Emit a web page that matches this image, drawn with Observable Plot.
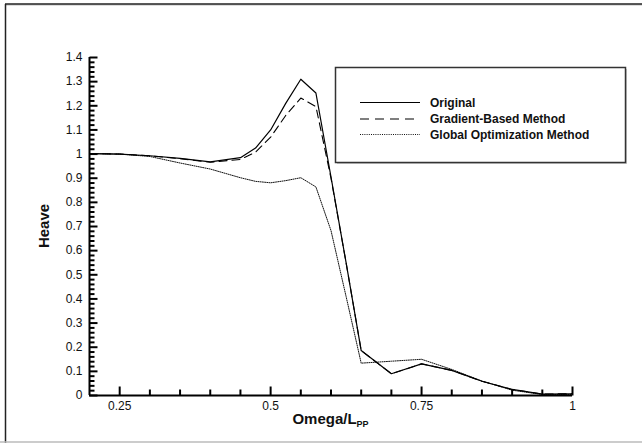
<!DOCTYPE html>
<html>
<head>
<meta charset="utf-8">
<script src="https://cdn.jsdelivr.net/npm/d3@7"></script>
<script src="https://cdn.jsdelivr.net/npm/@observablehq/plot@0.6"></script>
<style>
  html, body { margin: 0; padding: 0; background: #fff; }
  #chart { position: relative; width: 642px; height: 443px; }
</style>
</head>
<body>
<div id="chart"></div>
<script>
// ---- Data ----
const omega = [0.2, 0.25, 0.3, 0.35, 0.4, 0.45, 0.475, 0.5, 0.525, 0.55, 0.575, 0.6, 0.625, 0.65, 0.7, 0.75, 0.8, 0.85, 0.9, 0.95, 1.0];
const original = [1.002, 1.0, 0.993, 0.982, 0.968, 0.985, 1.025, 1.10, 1.21, 1.31, 1.253, 0.905, 0.55, 0.186, 0.09, 0.131, 0.104, 0.059, 0.025, 0.006, 0.007];
const gradientBased = [1.002, 1.0, 0.993, 0.981, 0.966, 0.978, 1.008, 1.07, 1.16, 1.232, 1.197, 0.90, 0.55, 0.186, 0.09, 0.131, 0.104, 0.059, 0.025, 0.006, 0.007];
const globalOpt = [1.002, 1.0, 0.99, 0.963, 0.938, 0.902, 0.887, 0.881, 0.89, 0.902, 0.864, 0.683, 0.41, 0.134, 0.142, 0.150, 0.108, 0.06, 0.022, 0.004, 0.004];

const seriesNames = ["Original", "Gradient-Based Method", "Global Optimization Method"];

const yTickValues = [0, 0.1, 0.2, 0.3, 0.4, 0.5, 0.6, 0.7, 0.8, 0.9, 1, 1.1, 1.2, 1.3, 1.4];
const yTickLabels = ["0", "0.1", "0.2", "0.3", "0.4", "0.5", "0.6", "0.7", "0.8", "0.9", "1", "1.1", "1.2", "1.3", "1.4"];
const xTickValues = [0.25, 0.5, 0.75, 1];
const xTickLabels = ["0.25", "0.5", "0.75", "1"];

// minor tick positions
const yMinorTicks = d3.range(1, 70).map(i => i * 0.02).filter((v, i) => (i + 1) % 5 !== 0);
const xMinorTicks = [0.3, 0.35, 0.4, 0.45, 0.55, 0.6, 0.65, 0.7, 0.8, 0.85, 0.9, 0.95];

// ---- Build tables ----
const toRows = (vals) => omega.map((x, i) => ({x, y: vals[i]}));
const yTicks = yTickValues.map((v, i) => ({v, label: yTickLabels[i]}));
const xTicks = xTickValues.map((v, i) => ({v, label: xTickLabels[i]}));

const W = 642, H = 443;
const mL = 89, mR = 70, mT = 57, mB = 48;
const plotW = W - mL - mR, plotH = H - mT - mB;
const font = "'Liberation Sans', Arial, Helvetica, sans-serif";

// a straight tick shape for vectors
const tickShape = {draw(context, l) { context.moveTo(0, 0); context.lineTo(0, -l); }};

const chart = Plot.plot({
  width: W,
  height: H,
  marginLeft: mL,
  marginRight: mR,
  marginTop: mT,
  marginBottom: mB,
  style: {fontFamily: font, background: "#fff", overflow: "visible"},
  x: {domain: [0.2, 1], axis: null},
  y: {domain: [0, 1.4], axis: null},
  marks: [
    // minor & major ticks (inward)
    Plot.vector(yMinorTicks, {x: 0.2, y: d => d, length: 5, rotate: 90, anchor: "start", shape: tickShape, stroke: "#000", strokeWidth: 2, strokeLinecap: "butt"}),
    Plot.vector(yTickValues, {x: 0.2, y: d => d, length: 8, rotate: 90, anchor: "start", shape: tickShape, stroke: "#000", strokeWidth: 2, strokeLinecap: "butt"}),
    Plot.vector(xMinorTicks, {x: d => d, y: 0, length: 6, rotate: 0, anchor: "start", shape: tickShape, stroke: "#000", strokeWidth: 2, strokeLinecap: "butt"}),
    Plot.vector(xTickValues, {x: d => d, y: 0, length: 9, rotate: 0, anchor: "start", shape: tickShape, stroke: "#000", strokeWidth: 2, strokeLinecap: "butt"}),
    // tick labels
    Plot.text(yTicks, {x: 0.2, y: "v", text: "label", textAnchor: "end", dx: -7, fontSize: 12, fill: "#111"}),
    Plot.text(xTicks, {x: "v", y: 0, text: "label", lineAnchor: "top", dy: 6, fontSize: 12, fill: "#111"}),
    // data lines
    Plot.line(toRows(globalOpt), {x: "x", y: "y", stroke: "#111", strokeWidth: 1, strokeDasharray: "1,1.2"}),
    Plot.line(toRows(gradientBased), {x: "x", y: "y", stroke: "#000", strokeWidth: 1.1, strokeDasharray: "8,5"}),
    Plot.line(toRows(original), {x: "x", y: "y", stroke: "#000", strokeWidth: 1.2}),
    // axis lines
    Plot.ruleX([0.2], {stroke: "#000", strokeWidth: 2}),
    Plot.ruleY([0], {stroke: "#000", strokeWidth: 2})
  ]
});

document.getElementById("chart").appendChild(chart);

// ---- Decorations: frame, titles, legend ----
const svg = d3.select(chart);

// outer frame
svg.append("line").attr("x1", 5).attr("x2", W).attr("y1", 5).attr("y2", 5).attr("stroke", "#bbb").attr("stroke-width", 1);
svg.append("line").attr("x1", 5).attr("x2", W).attr("y1", 4).attr("y2", 4).attr("stroke", "#222").attr("stroke-width", 1.5);
svg.append("line").attr("x1", 5.5).attr("x2", 5.5).attr("y1", 4).attr("y2", H).attr("stroke", "#222").attr("stroke-width", 1.5);
svg.append("line").attr("x1", 0).attr("x2", W).attr("y1", 442).attr("y2", 442).attr("stroke", "#bbb").attr("stroke-width", 1.5);

// y title
svg.append("text")
  .attr("transform", `translate(49, ${mT + plotH / 2}) rotate(-90)`)
  .attr("text-anchor", "middle")
  .attr("font-family", font).attr("font-weight", "bold").attr("font-size", 15)
  .attr("fill", "#111")
  .text("Heave");

// x title with subscript
const xt = svg.append("text")
  .attr("x", mL + plotW / 2).attr("y", 424)
  .attr("text-anchor", "middle")
  .attr("font-family", font).attr("font-weight", "bold").attr("font-size", 15)
  .attr("fill", "#111");
xt.append("tspan").text("Omega/L");
xt.append("tspan").attr("font-size", 9).attr("dy", 3).text("PP");

// legend
const lg = svg.append("g");
lg.append("rect").attr("x", 337).attr("y", 69).attr("width", 290).attr("height", 95).attr("fill", "#999").attr("opacity", 0.5);
lg.append("rect").attr("x", 335.5).attr("y", 67.5).attr("width", 290).attr("height", 95).attr("fill", "#fff").attr("stroke", "#333").attr("stroke-width", 1.5);
const styles = [
  {dash: null, stroke: "#000", w: 1.2},
  {dash: "9,6", stroke: "#000", w: 1.2},
  {dash: "1,1.2", stroke: "#111", w: 1}
];
const rowY = [102.5, 119, 134.5];
seriesNames.forEach((name, i) => {
  const s = styles[i];
  const l = lg.append("line").attr("x1", 360).attr("x2", 420).attr("y1", rowY[i]).attr("y2", rowY[i])
    .attr("stroke", s.stroke).attr("stroke-width", s.w);
  if (s.dash) l.attr("stroke-dasharray", s.dash);
  lg.append("text").attr("x", 430).attr("y", rowY[i] + 4.3)
    .attr("text-anchor", "start")
    .attr("font-family", font).attr("font-weight", "bold").attr("font-size", 12).attr("fill", "#111")
    .text(name);
});
</script>
</body>
</html>
